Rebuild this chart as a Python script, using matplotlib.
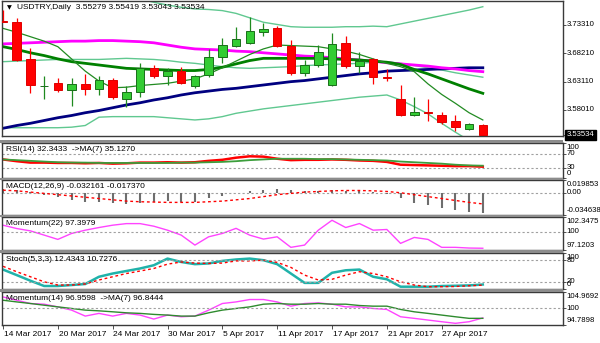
import numpy as np
import pandas as pd
import matplotlib
matplotlib.use('Agg')
import matplotlib.pyplot as plt
from matplotlib.patches import Rectangle

plt.rcParams['font.family'] = ['Liberation Sans', 'DejaVu Sans']
plt.rcParams['font.size'] = 6

# daily bars, 14 Mar - 2 May 2017
dates = pd.bdate_range('2017-03-14', periods=36)

opens = [3.7400, 3.7390, 3.6720, 3.6225, 3.6290, 3.6160, 3.6270, 3.6180, 3.6340, 3.6000,
         3.6120, 3.6560, 3.6410, 3.6500, 3.6230, 3.6430, 3.6750, 3.6950, 3.7000, 3.7200,
         3.7280, 3.6950, 3.6460, 3.6610, 3.6250, 3.7010, 3.6590, 3.6720, 3.6400, 3.6000,
         3.5710, 3.5770, 3.5710, 3.5600, 3.5460, 3.55279]
highs = [3.7600, 3.7460, 3.6920, 3.6410, 3.6380, 3.6380, 3.6450, 3.6410, 3.6380, 3.6230,
         3.6650, 3.6610, 3.6560, 3.6570, 3.6430, 3.6900, 3.7100, 3.7300, 3.7470, 3.7370,
         3.7310, 3.7060, 3.6700, 3.6970, 3.7190, 3.7130, 3.6850, 3.6740, 3.6540, 3.6250,
         3.6030, 3.6000, 3.5770, 3.5710, 3.5570, 3.55419]
lows = [3.7385, 3.6690, 3.6110, 3.6000, 3.6120, 3.5870, 3.6070, 3.6070, 3.6000, 3.5850,
        3.6030, 3.6380, 3.6250, 3.6270, 3.6200, 3.6390, 3.6650, 3.6940, 3.6990, 3.7130,
        3.6940, 3.6430, 3.6410, 3.6580, 3.6230, 3.6550, 3.6470, 3.6270, 3.6320, 3.5700,
        3.5690, 3.5610, 3.5550, 3.5420, 3.5440, 3.53043]
closes = [3.7390, 3.6700, 3.6250, 3.6235, 3.6160, 3.6270, 3.6180, 3.6340, 3.6030, 3.6120,
          3.6560, 3.6410, 3.6500, 3.6290, 3.6410, 3.6750, 3.6970, 3.7080, 3.7220, 3.7260,
          3.6950, 3.6460, 3.6610, 3.6850, 3.6990, 3.6590, 3.6680, 3.6390, 3.6370, 3.5710,
          3.5760, 3.5740, 3.5590, 3.5500, 3.5550, 3.53534]

# moving averages on price
ma_fast = [3.727, 3.720, 3.712, 3.704, 3.694, 3.672, 3.650, 3.632, 3.620, 3.621,
           3.624, 3.626, 3.628, 3.632, 3.636, 3.645, 3.656, 3.668, 3.680, 3.690,
           3.697, 3.696, 3.695, 3.694, 3.690, 3.686, 3.680, 3.672, 3.664, 3.658,
           3.649, 3.627, 3.608, 3.592, 3.575, 3.562]
ma_mid = [3.694, 3.689, 3.683, 3.678, 3.672, 3.667, 3.664, 3.661, 3.658, 3.655,
          3.654, 3.653, 3.652, 3.651, 3.651, 3.653, 3.657, 3.663, 3.669, 3.673,
          3.673, 3.673, 3.673, 3.673, 3.672, 3.671, 3.670, 3.668, 3.666, 3.662,
          3.653, 3.645, 3.636, 3.627, 3.618, 3.610]
ma_slow = [3.699, 3.700, 3.701, 3.702, 3.703, 3.704, 3.704, 3.705, 3.705, 3.704,
           3.703, 3.701, 3.697, 3.693, 3.690, 3.689, 3.688, 3.686, 3.685, 3.683,
           3.681, 3.679, 3.677, 3.676, 3.674, 3.672, 3.670, 3.668, 3.665, 3.663,
           3.661, 3.659, 3.656, 3.654, 3.651, 3.649]
ma_long = [3.547, 3.552, 3.556, 3.561, 3.566, 3.570, 3.575, 3.579, 3.584, 3.589,
           3.593, 3.598, 3.602, 3.607, 3.611, 3.614, 3.617, 3.619, 3.622, 3.625,
           3.628, 3.631, 3.633, 3.636, 3.639, 3.642, 3.645, 3.647, 3.650, 3.651,
           3.652, 3.653, 3.654, 3.655, 3.656, 3.656]
bb_upper = [3.800, 3.800, 3.800, 3.800, 3.800, 3.798, 3.795, 3.790, 3.787, 3.785,
            3.780, 3.774, 3.769, 3.765, 3.762, 3.761, 3.759, 3.754, 3.746, 3.738,
            3.734, 3.730, 3.729, 3.729, 3.729, 3.730, 3.730, 3.731, 3.730, 3.735,
            3.740, 3.745, 3.750, 3.755, 3.760, 3.766]
bb_middle = [3.667, 3.668, 3.669, 3.670, 3.671, 3.671, 3.671, 3.671, 3.672, 3.673,
             3.672, 3.671, 3.669, 3.666, 3.664, 3.661, 3.658, 3.656, 3.655, 3.656,
             3.657, 3.658, 3.660, 3.661, 3.662, 3.663, 3.664, 3.666, 3.667, 3.664,
             3.660, 3.656, 3.652, 3.647, 3.643, 3.639]
bb_lower = [3.548, 3.548, 3.548, 3.548, 3.548, 3.549, 3.552, 3.567, 3.568, 3.568,
            3.568, 3.568, 3.566, 3.564, 3.562, 3.564, 3.568, 3.574, 3.578, 3.582,
            3.585, 3.588, 3.591, 3.594, 3.597, 3.600, 3.603, 3.605, 3.607, 3.598,
            3.586, 3.573, 3.556, 3.540, 3.525, 3.510]

rsi = [53, 48, 44, 44, 43, 43, 42, 43, 41, 42, 44, 44, 45, 44, 45, 49, 52, 58, 62, 61,
       55, 51, 52, 52, 53, 52, 50, 49, 46, 38, 37, 36, 35, 34, 34, 32.3433]
rsi_ma = [53, 51, 49, 47, 45, 44, 44, 43, 43, 43, 43, 43, 43, 44, 44, 45, 46, 48, 51, 53,
          55, 55, 55, 54, 54, 53, 52, 51, 50, 47, 45, 43, 41, 38, 36, 35.1270]

macd = [0.006, 0.004, 0.001, -0.003, -0.0071, -0.0113, -0.0139, -0.0149, -0.0165, -0.0180,
        -0.0154, -0.0139, -0.0125, -0.0139, -0.0139, -0.0087, -0.0051, -0.0009, 0.003, 0.005,
        0.006, 0.004, 0.003, 0.003, 0.004, 0.003, 0.003, 0.001, -0.002, -0.008,
        -0.0154, -0.0191, -0.0232, -0.0269, -0.0299, -0.032161]
macd_signal = [0.004, 0.003, 0.001, -0.001, -0.003, -0.005, -0.007, -0.009, -0.011, -0.013,
               -0.014, -0.0145, -0.015, -0.015, -0.015, -0.014, -0.013, -0.011, -0.009, -0.006,
               -0.003, -0.001, 0.001, 0.002, 0.003, 0.0035, 0.0035, 0.003, 0.002, 0.000,
               -0.003, -0.006, -0.009, -0.012, -0.015, -0.017370]

mom22 = [101.05, 100.52, 100.15, 99.48, 98.80, 99.74, 100.26, 100.68, 101.05, 101.30,
         101.30, 100.89, 100.26, 99.48, 97.90, 99.21, 99.74, 100.55, 99.47, 98.85,
         99.21, 97.54, 97.90, 100.26, 101.83, 100.68, 101.31, 100.26, 100.37, 98.17,
         99.11, 98.80, 97.54, 97.54, 97.43, 97.3979]

stoch_k = [54, 38.6, 23, 8.3, 8.3, 11, 13.8, 34, 43, 50, 57, 66, 84.5, 75, 69, 71, 78, 82,
           84.5, 80, 69, 43, 17, 17, 45, 52, 54, 34, 27, 6.4, 6.4, 6.4, 8.3, 9, 10, 12.4343]
stoch_d = [63, 48, 34, 20, 11, 11, 14, 25, 34, 43, 50, 57, 69, 75, 72, 71, 72, 78,
           78, 80, 74, 60, 38.6, 25, 27, 38.6, 48, 43, 34, 20, 11, 6.4, 6.4, 7, 9, 10.7276]

mom14 = [103.44, 102.43, 101.42, 101.21, 100.38, 99.38, 97.54, 98.37, 97.54, 98.37,
         97.85, 96.62, 97.85, 97.33, 97.54, 99.38, 101.42, 101.91, 102.65, 102.65,
         101.91, 100.60, 101.42, 101.61, 101.21, 100.38, 100.38, 99.89, 99.59, 97.33,
         96.84, 96.32, 95.80, 95.31, 95.80, 96.9598]
mom14_ma = [102.43, 101.91, 101.42, 100.90, 100.38, 99.89, 99.38, 99.16, 98.86, 98.55,
            98.37, 98.06, 97.85, 97.54, 97.54, 98.55, 99.38, 99.89, 100.38, 101.21,
            101.42, 101.21, 101.21, 101.42, 101.21, 101.21, 100.80, 100.60, 100.60, 99.59,
            98.86, 98.37, 97.85, 97.33, 96.84, 96.8444]

W, H = 600, 343
fig = plt.figure(figsize=(6, 3.43), dpi=100)
x = np.arange(len(dates))
level_style = dict(color='#a0a0a0', lw=0.8, ls=(0, (2, 2)))
RFONT = 5.6

# grey splitters between the windows
for top, bottom in [(140, 143), (178, 180), (215, 217), (250, 253), (289, 292)]:
    fig.patches.append(Rectangle((0, 1 - bottom / H), 563 / W, (bottom - top) / H,
                                 transform=fig.transFigure, fc='#8c8c8c', ec='none'))


def panel(top, bottom):
    ax = fig.add_axes([2 / W, 1 - bottom / H, 561 / W, (bottom - top) / H])
    ax.set_xlim(-0.073, 40.85)
    ax.set_xticks([])
    ax.yaxis.tick_right()
    ax.tick_params(axis='y', length=2, width=0.6, colors='#333333', labelright=False)
    for s in ax.spines.values():
        s.set_color('#3a3a3a')
        s.set_linewidth(1)
    return ax


def rlabel(ax, y, s, va='center', dy=0, **kw):
    ax.annotate(s, xy=(1, y), xycoords=('axes fraction', 'data'), xytext=(2.5, dy),
                textcoords='offset points', va=va, ha='left', fontsize=RFONT,
                annotation_clip=False, **kw)


def title(ax, s):
    ax.annotate(s, xy=(0, 1), xycoords='axes fraction', xytext=(3, -2.5),
                textcoords='offset points', va='top', ha='left', fontsize=6)


def scale(ax, lo, hi, levels, lo_txt, hi_txt):
    ax.set_ylim(lo, hi)
    ax.set_yticks([hi] + levels + [lo])
    rlabel(ax, hi, hi_txt, va='top', dy=-0.5)
    for v in levels:
        rlabel(ax, v, f'{v:g}')
        ax.axhline(v, **level_style)
    rlabel(ax, lo, lo_txt, va='bottom', dy=0.5)


# price window
ax = panel(1, 136)
ax.set_ylim(3.5331, 3.7763)
ax.plot(x, bb_upper, color='#60c890', lw=1)
ax.plot(x, bb_middle, color='#60c890', lw=1)
ax.plot(x, bb_lower, color='#60c890', lw=1)
ax.plot(x, ma_long, color='#000080', lw=2)
ax.plot(x, ma_slow, color='#ff00ff', lw=2)
ax.plot(x, ma_mid, color='#008000', lw=2)
ax.plot(x, ma_fast, color='#228b22', lw=0.9)
o, h, l, c = map(np.array, (opens, highs, lows, closes))
up = c >= o
wick = np.where(up, '#1f8a1f', '#ff0000')
ax.vlines(x, l, h, colors=wick, lw=0.9, zorder=3)
body = np.maximum(np.abs(c - o), 0.0007)
ax.bar(x, body, bottom=np.minimum(o, c), width=0.62,
       color=np.where(up, '#33cc33', '#ff0000'),
       edgecolor=np.where(up, '#1a6e1a', '#e00000'), linewidth=0.7, zorder=4)
ticks = [3.7331, 3.6821, 3.6311, 3.5801]
ax.set_yticks(ticks + [closes[-1]])
for t in ticks:
    rlabel(ax, t, f'{t:.5f}')
rlabel(ax, closes[-1], f'{closes[-1]:.5f}', color='white',
       bbox=dict(boxstyle='square,pad=0.2', fc='black', ec='black'))
ax.annotate('\u25bc', xy=(0, 1), xycoords='axes fraction', xytext=(3.5, -3),
            textcoords='offset points', va='top', ha='left', fontsize=4.5,
            family=['DejaVu Sans'])
ax.annotate(f'USDTRY,Daily  {opens[-1]:.5f} {highs[-1]:.5f} {lows[-1]:.5f} {closes[-1]:.5f}',
            xy=(0, 1), xycoords='axes fraction', xytext=(10.5, -2.5),
            textcoords='offset points', va='top', ha='left', fontsize=6)

# RSI
ax = panel(143, 178)
ax.plot(x, rsi, color='#ff0000', lw=1.8)
ax.plot(x, rsi_ma, color='#3c9e3c', lw=1.3)
scale(ax, 0, 100, [70, 30], '0', '100')
title(ax, f'RSI(14) {rsi[-1]:.4f}  ->MA(7) {rsi_ma[-1]:.4f}')

# MACD
ax = panel(180, 215)
ax.axhline(0, **level_style)
ax.vlines(x, 0, macd, colors='#6e6e6e', lw=1.5)
ax.plot(x, macd_signal, color='#ff0000', lw=1, ls=(0, (2, 2)))
ax.set_ylim(-0.034638, 0.019853)
ax.set_yticks([0.019853, 0, -0.034638])
rlabel(ax, 0.019853, '0.019853', va='top', dy=-0.5)
rlabel(ax, 0, '0.00')
rlabel(ax, -0.034638, '-0.034638', va='bottom', dy=0.5)
title(ax, f'MACD(12,26,9) {macd[-1]:.6f} {macd_signal[-1]:.6f}')

# Momentum 22
ax = panel(217, 250)
ax.plot(x, mom22, color='#ff44ff', lw=1)
scale(ax, 97.1203, 102.3475, [100], '97.1203', '102.3475')
title(ax, f'Momentum(22) {mom22[-1]:.4f}')

# Stochastic
ax = panel(253, 289)
ax.plot(x, stoch_k, color='#20b2aa', lw=1.8)
ax.plot(x, stoch_d, color='#ff0000', lw=1, ls=(0, (2, 2)))
scale(ax, 0, 100, [80, 20], '0', '100')
title(ax, f'Stoch(5,3,3) {stoch_k[-1]:.4f} {stoch_d[-1]:.4f}')

# Momentum 14
ax = panel(292, 325)
ax.plot(x, mom14, color='#ff44ff', lw=1)
ax.plot(x, mom14_ma, color='#2e8b2e', lw=1)
scale(ax, 94.7898, 104.9692, [100], '94.7898', '104.9692')
title(ax, f'Momentum(14) {mom14[-1]:.4f}  ->MA(7) {mom14_ma[-1]:.4f}')

tick_idx = list(range(0, len(dates), 4))
ax.set_xticks(tick_idx)
ax.tick_params(axis='x', length=3, width=0.6, colors='#333333', labelbottom=False)
for i in tick_idx:
    d = dates[i]
    ax.annotate(f'{d.day} {d:%b %Y}', xy=(i, 0), xycoords=('data', 'axes fraction'),
                xytext=(0.5, -4), textcoords='offset points', va='top', ha='left',
                fontsize=6)

fig.savefig('out.png', dpi=100)
